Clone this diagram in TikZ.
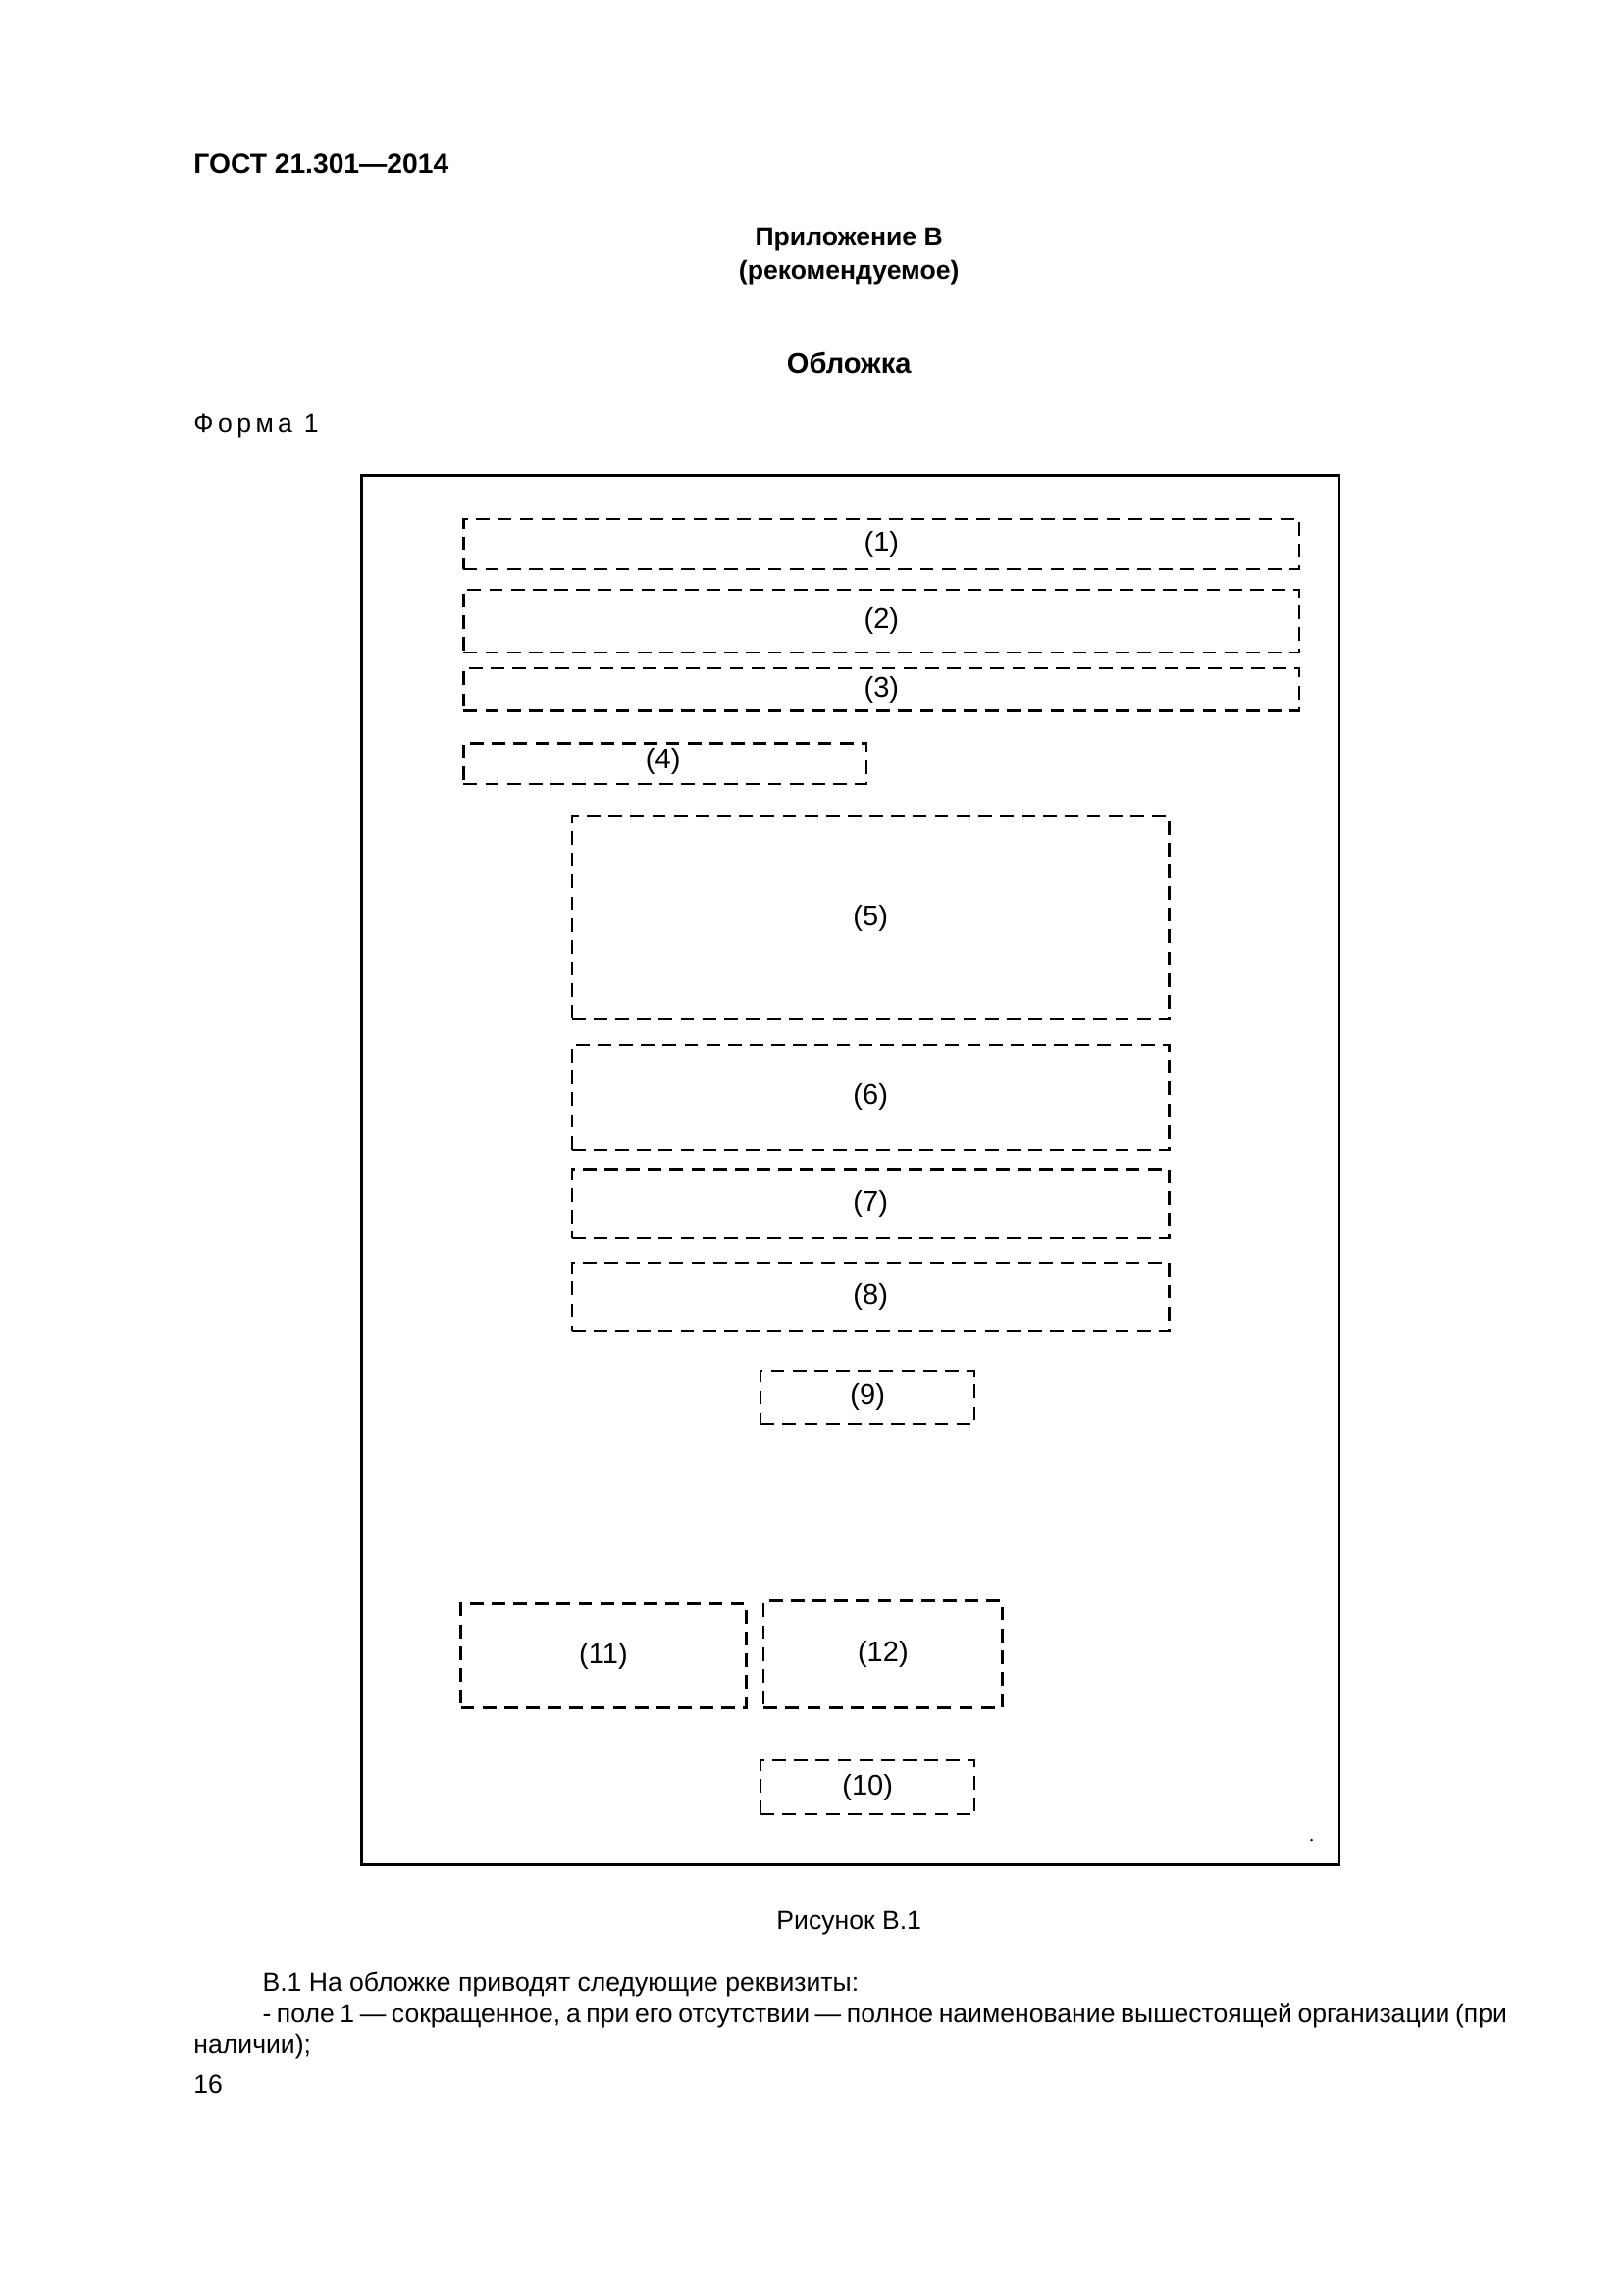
\documentclass[tikz,border=0pt]{standalone}
\usepackage{fontspec}
\setmainfont{Liberation Sans}
\usetikzlibrary{positioning}
\newcommand\pu{0.018936cm}
\tikzset{
  fld/.style={draw, dash pattern=on 5pt off 3pt, line width=0.8pt, inner sep=0pt, font=\fontsize{10.5}{12}\selectfont},
  txt/.style={inner sep=0pt, font=\fontsize{9.6}{12}\selectfont}
}
% field box from corners (x1,y1)-(x2,y2) in page pixels
\newcommand\fld[6]{\node[fld, anchor=north west, minimum width={(#4-#2)*\pu}, minimum height={(#5-#3)*\pu}] (#1) at (#2,#3) {#6};}
\begin{document}
\begin{tikzpicture}[x=\pu,y=-\pu]
\useasboundingbox (0,0) rectangle (1109,1568);
\node[txt, anchor=west, font=\bfseries\fontsize{10.2}{13}\selectfont] (gost) at (132,112) {ГОСТ 21.301—2014};
\node[txt, font=\bfseries\fontsize{9.6}{11}\selectfont, align=center] (app) at (580,175) {Приложение В\\[1pt](рекомендуемое)};
\node[txt, font=\bfseries\fontsize{10.5}{13}\selectfont] (title) at (580,248) {Обложка};
\node[txt, anchor=west] (form) at (132,291) {Ф\,о\,р\,м\,а\, 1};

\draw[line width=1pt] (247,325) rectangle (915,1274);
\fld{f1}{316}{354}{887}{388}{(1)}
\fld{f2}{316}{402}{887}{445}{(2)}
\fld{f3}{316}{456}{887}{485}{(3)}
\fld{f4}{316}{507}{591}{535}{}
\node[txt, font=\fontsize{10.5}{12}\selectfont] (l4) at (453,520) {(4)};
\fld{f5}{390}{557}{798}{696}{(5)}
\fld{f6}{390}{713}{798}{785}{(6)}
\fld{f7}{390}{798}{798}{845}{(7)}
\fld{f8}{390}{862}{798}{909}{(8)}
\fld{f9}{519}{936}{665}{972}{(9)}
\fld{f11}{314}{1095}{509}{1166}{(11)}
\fld{f12}{521}{1093}{684}{1166}{(12)}
\fld{f10}{519}{1202}{665}{1239}{(10)}
\fill (896,1257) circle (0.5pt);

\node[txt] (cap) at (580,1314) {Рисунок В.1};
\node[txt, anchor=west] (p1) at (179,1356) {В.1 На обложке приводят следующие реквизиты:};
\node[txt, anchor=west] (p2) at (179,1377) {\makebox[16.1cm][s]{- поле 1 — сокращенное, а при его отсутствии — полное наименование вышестоящей организации (при}};
\node[txt, anchor=west] (p3) at (132,1398) {наличии);};
\node[txt, anchor=west] (pg) at (132,1424) {16};
\end{tikzpicture}
\end{document}
